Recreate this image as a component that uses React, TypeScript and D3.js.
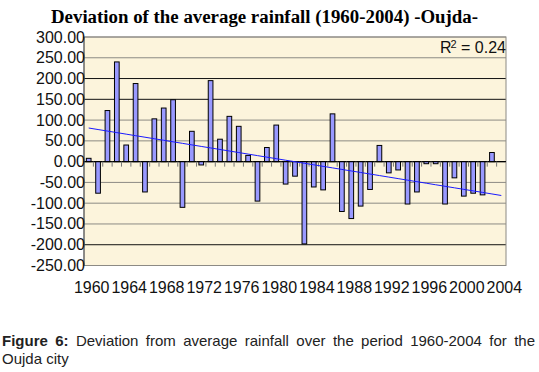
import React, { useMemo } from "react";
import * as d3 from "d3";

// ---------- data ----------
const years = [
  1960, 1961, 1962, 1963, 1964, 1965, 1966, 1967, 1968, 1969,
  1970, 1971, 1972, 1973, 1974, 1975, 1976, 1977, 1978, 1979,
  1980, 1981, 1982, 1983, 1984, 1985, 1986, 1987, 1988, 1989,
  1990, 1991, 1992, 1993, 1994, 1995, 1996, 1997, 1998, 1999,
  2000, 2001, 2002, 2003, 2004,
];
const deviations = [
  8, -76, 123, 240, 40, 188, -73, 103, 129, 149,
  -110, 73, -8, 195, 54, 109, 85, 15, -95, 34,
  88, -54, -35, -198, -61, -68, 115, -120, -137, -107,
  -67, 39, -27, -20, -102, -73, -5, -5, -102, -39,
  -83, -76, -80, 22, 0,
];
const yTicks = [300, 250, 200, 150, 100, 50, 0, -50, -100, -150, -200, -250];
const darkGridValues = [200, 150, -200];
const xLabelYears = [1960, 1964, 1968, 1972, 1976, 1980, 1984, 1988, 1992, 1996, 2000, 2004];
const titleText = "Deviation of the average rainfall (1960-2004) -Oujda-";
const r2Value = "0.24";
const captionBoldWords = ["Figure", "6:"];
const captionLine1Words = [
  "Deviation", "from", "average", "rainfall", "over", "the", "period", "1960-2004", "for", "the",
];
const captionLine2 = "Oujda city";

// ---------- layout ----------
const W = 539;
const H = 372;
const PL = 84;
const PR = 506;
const PT = 37;
const PB = 265.5;
const SANS = "'Liberation Sans', Arial, sans-serif";
const SERIF = "'Liberation Serif', 'Times New Roman', serif";
const CAP_FS = 15;

function measure(text: string, font: string): number {
  const c = document.createElement("canvas").getContext("2d");
  if (!c) return text.length * 7;
  c.font = font;
  return c.measureText(text).width;
}

export default function App() {
  const x = d3
    .scaleBand<number>()
    .domain(years)
    .range([PL, PR])
    .paddingInner(0.5)
    .paddingOuter(0.25);
  const y = d3.scaleLinear().domain([-250, 300]).range([PB, PT]);
  const bw = x.bandwidth();
  const step = x.step();
  const cx = (yr: number) => (x(yr) as number) + bw / 2;

  // linear trend (least squares over index)
  const n = deviations.length;
  const idx = d3.range(n);
  const mx = d3.mean(idx) as number;
  const my = d3.mean(deviations) as number;
  const sxy = d3.sum(idx, (i) => (i - mx) * (deviations[i] - my));
  const sxx = d3.sum(idx, (i) => (i - mx) * (i - mx));
  const slope = sxy / sxx;
  const intercept = my - slope * mx;
  const trendLine = d3
    .line<number>()
    .x((i) => cx(years[i]))
    .y((i) => y(intercept + slope * i));

  // justified caption layout
  const caption = useMemo(() => {
    const boldFont = `bold ${CAP_FS}px 'Liberation Sans'`;
    const normFont = `${CAP_FS}px 'Liberation Sans'`;
    const words = [
      ...captionBoldWords.map((w) => ({ w, bold: true })),
      ...captionLine1Words.map((w) => ({ w, bold: false })),
    ];
    const widths = words.map((d) => measure(d.w, d.bold ? boldFont : normFont));
    const left = 2;
    const right = 535;
    const total = d3.sum(widths);
    const gap = (right - left - total) / (words.length - 1);
    let pos = left;
    return words.map((d, i) => {
      const item = { ...d, x: pos };
      pos += widths[i] + gap;
      return item;
    });
  }, []);

  const zeroY = y(0);

  return (
    <svg
      width={W}
      height={H}
      style={{ position: "absolute", left: 0, top: 0, background: "#fff" }}
    >
      {/* title */}
      <text
        x={264.5}
        y={23}
        textAnchor="middle"
        fontFamily={SERIF}
        fontWeight="bold"
        fontSize={18}
        textLength={427}
        lengthAdjust="spacingAndGlyphs"
        fill="#000"
      >
        {titleText}
      </text>

      {/* plot background */}
      <rect x={PL} y={PT} width={PR - PL} height={PB - PT} fill="#fcf4dc" />

      {/* grid lines */}
      {yTicks.map((t) => (
        <line
          key={"g" + t}
          x1={PL}
          x2={PR}
          y1={y(t)}
          y2={y(t)}
          stroke={t === 0 ? "#000" : darkGridValues.includes(t) ? "#111" : "#8c8a84"}
          strokeWidth={t === 0 ? 1.2 : 1}
        />
      ))}

      {/* plot border */}
      <rect
        x={PL}
        y={PT}
        width={PR - PL}
        height={PB - PT}
        fill="none"
        stroke="#8c8a84"
        strokeWidth={1}
      />

      {/* bars */}
      {years.map((yr, i) => {
        const v = deviations[i];
        const y0 = y(Math.max(0, v));
        const h = Math.abs(y(v) - y(0));
        return (
          <rect
            key={"b" + yr}
            x={x(yr)}
            y={y0}
            width={bw}
            height={h}
            fill="#9999ff"
            stroke="#000"
            strokeWidth={1}
          />
        );
      })}

      {/* zero axis */}
      <line x1={PL} x2={PR} y1={zeroY} y2={zeroY} stroke="#000" strokeWidth={1} />

      {/* category ticks below zero line */}
      {years.slice(1).map((yr) => {
        const tx = (x(yr) as number) - (step - bw) / 2;
        return (
          <line
            key={"t" + yr}
            x1={tx}
            x2={tx}
            y1={zeroY}
            y2={zeroY + 5}
            stroke="#777"
            strokeWidth={1}
          />
        );
      })}

      {/* trend line */}
      <path d={trendLine(idx) || ""} fill="none" stroke="#1a1aff" strokeWidth={1} />

      {/* left axis */}
      <line x1={PL} x2={PL} y1={PT} y2={PB} stroke="#555" strokeWidth={1} />

      {/* y labels */}
      {yTicks.map((t) => (
        <text
          key={"yl" + t}
          x={PL + 1}
          y={y(t) + 5.5}
          textAnchor="end"
          fontFamily={SANS}
          fontSize={16}
          fill="#111"
        >
          {t.toFixed(2)}
        </text>
      ))}

      {/* x labels */}
      {xLabelYears.map((yr) => (
        <text
          key={"xl" + yr}
          x={cx(yr) + 3}
          y={293}
          textAnchor="middle"
          fontFamily={SANS}
          fontSize={16}
          fill="#111"
        >
          {yr}
        </text>
      ))}

      {/* R² label */}
      <text
        x={PR}
        y={53}
        textAnchor="end"
        fontFamily={SANS}
        fontSize={16}
        fill="#111"
      >
        <tspan>R</tspan>
        <tspan dx={-1} dy={-5} fontSize={11}>2</tspan>
        <tspan dy={5}>{" = " + r2Value}</tspan>
      </text>

      {/* caption */}
      <text fontFamily={SANS} fontSize={CAP_FS} fill="#222">
        {caption.map((d, i) => (
          <tspan key={"c" + i} x={d.x} y={345.7} fontWeight={d.bold ? "bold" : "normal"}>
            {d.w}
          </tspan>
        ))}
      </text>
      <text x={2} y={364.3} fontFamily={SANS} fontSize={CAP_FS} fill="#222">
        {captionLine2}
      </text>
    </svg>
  );
}
